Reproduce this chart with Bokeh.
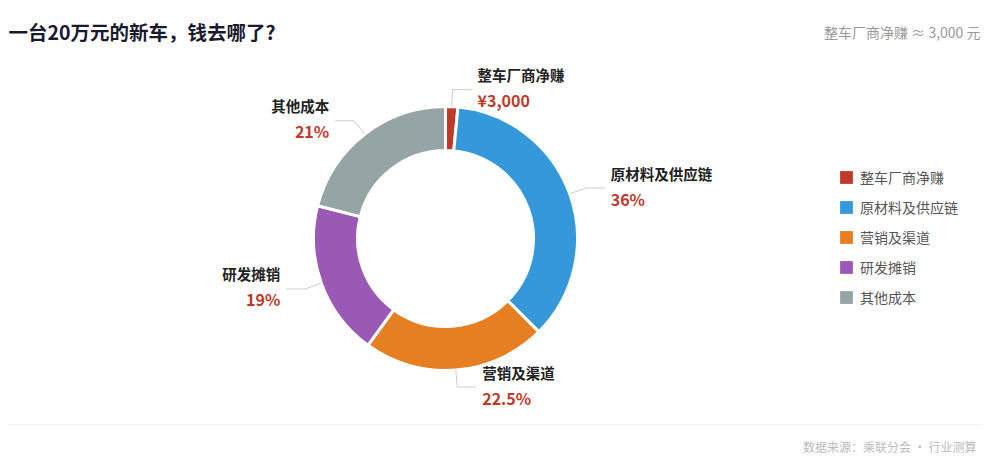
import numpy as np
from bokeh.plotting import figure
from bokeh.models import Range1d, ColumnDataSource, Legend, LegendItem
from bokeh.core.properties import value
from bokeh.embed import file_html
from bokeh.resources import INLINE

# ---- data ----
categories = ["整车厂商净赚", "原材料及供应链", "营销及渠道", "研发摊销", "其他成本"]
shares = [1.5, 36.0, 22.5, 19.0, 21.0]          # percent of 200,000 yuan
value_labels = ["¥3,000", "36%", "22.5%", "19%", "21%"]
colors = ["#c0392b", "#3498db", "#e67e22", "#9b59b6", "#95a5a6"]
title_text = "一台20万元的新车，钱去哪了?"
subtitle_text = "整车厂商净赚 ≈ 3,000 元"
footer_text = "数据来源：乘联分会 · 行业测算"

FONT = "Noto Sans CJK SC"
W, H = 992, 457
CX, CY = 445, 219
R_OUT, R_IN = 132, 88

p = figure(width=W, height=H, output_backend="svg", toolbar_location=None,
           x_range=Range1d(0, W), y_range=Range1d(0, H), min_border=0)
p.axis.visible = False
p.grid.visible = False
p.outline_line_color = None
p.background_fill_color = "white"
p.border_fill_color = "white"

frac = np.array(shares) / sum(shares)
cum_end = np.cumsum(frac)
cum_start = cum_end - frac
start_ang = np.pi / 2 - 2 * np.pi * cum_end
end_ang = np.pi / 2 - 2 * np.pi * cum_start

src = ColumnDataSource(dict(x=[CX] * len(categories), y=[CY] * len(categories),
                            start=start_ang, end=end_ang, color=colors, name=categories))
r = p.annular_wedge(x="x", y="y", inner_radius=R_IN, outer_radius=R_OUT,
                    start_angle="start", end_angle="end", color="color",
                    line_color="white", line_width=3, source=src)

# legend swatches: a borderless rect renderer (its marks lie outside the visible range)
leg_src = ColumnDataSource(dict(x=[-100] * len(categories), y=[-100] * len(categories),
                                color=colors, name=categories))
r_leg = p.rect(x="x", y="y", width=10, height=10, fill_color="color",
               line_color=None, source=leg_src)

# leader lines and labels
mid = (start_ang + end_ang) / 2
ux, uy = np.cos(mid), np.sin(mid)
px0 = CX + R_OUT * ux
py0 = CY + R_OUT * uy
px1 = CX + (R_OUT + 17) * ux
py1 = CY + (R_OUT + 17) * uy
side = np.where(ux >= 0, 1, -1)
px2 = px1 + 19 * side
py2 = py1

p.multi_line(xs=[[a, b, c] for a, b, c in zip(px0, px1, px2)],
             ys=[[a, b, c] for a, b, c in zip(py0, py1, py2)],
             line_color="#cccccc", line_width=1)

tx = px2 + 6 * side
aligns = ["left" if s > 0 else "right" for s in side]
p.text(x=tx, y=py2 + 15, text=categories, text_align=aligns, text_baseline="middle",
       text_font=value(FONT), text_font_size="14.5px", text_font_style="bold",
       text_color="#222222")
p.text(x=tx, y=py2 - 10.5, text=value_labels, text_align=aligns, text_baseline="middle",
       text_font=value(FONT), text_font_size="16px", text_font_style="bold",
       text_color="#c0392b")

# title, subtitle, separator, footer
p.text(x=[8], y=[426], text=[title_text], text_align="left", text_baseline="middle",
       text_font=value(FONT), text_font_size="19.5px", text_font_style="bold",
       text_color="#1a1a2e")
p.text(x=[980], y=[426], text=[subtitle_text], text_align="right", text_baseline="middle",
       text_font=value(FONT), text_font_size="14px", text_color="#999999")
p.segment(x0=[8], y0=[33], x1=[981], y1=[33], line_color="#f0f0f0", line_width=1)
p.text(x=[976], y=[11], text=[footer_text], text_align="right", text_baseline="middle",
       text_font=value(FONT), text_font_size="12px", text_color="#bbbbbb")

legend = Legend(items=[LegendItem(label=c, renderers=[r_leg], index=i) for i, c in enumerate(categories)],
                location=(838, 150), orientation="vertical",
                glyph_width=16, glyph_height=16, label_height=20, label_standoff=6,
                spacing=10, padding=0, margin=0,
                label_text_font=FONT, label_text_font_size="14px", label_text_color="#555555",
                border_line_color=None, background_fill_alpha=0)
p.add_layout(legend)

open("out.html", "w").write(file_html(p, INLINE))
